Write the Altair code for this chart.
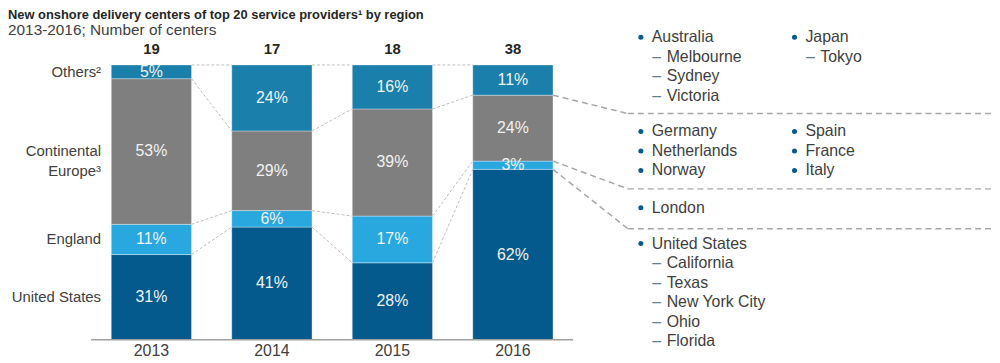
import altair as alt
import pandas as pd

# ---------------- data ----------------
years = ["2013", "2014", "2015", "2016"]
totals = [19, 17, 18, 38]
regions = ["United States", "England", "Continental Europe", "Others"]
region_labels = ["United States", "England", "Continental\nEurope³", "Others²"]
share_us = [31, 41, 28, 62]
share_england = [11, 6, 17, 3]
share_europe = [53, 29, 39, 24]
share_others = [5, 24, 16, 11]
region_colors = ["#045a8d", "#29a8e0", "#7f7f7f", "#1a7fab"]

# right-hand breakdown lists: (level, text); level 0 = bullet, level 1 = dash
others_col1 = [(0, "Australia"), (1, "Melbourne"), (1, "Sydney"), (1, "Victoria")]
others_col2 = [(0, "Japan"), (1, "Tokyo")]
europe_col1 = [(0, "Germany"), (0, "Netherlands"), (0, "Norway")]
europe_col2 = [(0, "Spain"), (0, "France"), (0, "Italy")]
england_col1 = [(0, "London")]
us_col1 = [(0, "United States"), (1, "California"), (1, "Texas"),
           (1, "New York City"), (1, "Ohio"), (1, "Florida")]

title_text = "New onshore delivery centers of top 20 service providers¹ by region"
subtitle_text = "2013-2016; Number of centers"

# ---------------- layout ----------------
W, H = 992, 355
XDOM = [-1.19, 6.976]
YDOM = [-7.94, 120.2]
HALF = 0.333
FONT = "Liberation Sans"
TXT = "#404040"
COL1_X, COL2_X = 4.062, 5.337
ROW_STEP = 7.11
BLOCK_TOP = {"others": 110.1, "europe": 75.8, "england": 48.0, "us": 35.0}
SEP_LEVELS = [82.3, 54.9, 40.4]
BEND_X = 3.955

xs = alt.Scale(domain=XDOM, nice=False, zero=False)
ys = alt.Scale(domain=YDOM, nice=False, zero=False)


def X(f):
    return alt.X(f, type="quantitative", scale=xs, axis=None)


def Y(f):
    return alt.Y(f, type="quantitative", scale=ys, axis=None)


shares = [share_us, share_england, share_europe, share_others]

# cumulative boundaries per year
cum = []
for i in range(len(years)):
    c = [0]
    for s in shares:
        c.append(c[-1] + s[i])
    cum.append(c)

bar_rows = []
for i, yr in enumerate(years):
    for k, reg in enumerate(regions):
        y0, y1 = cum[i][k], cum[i][k + 1]
        bar_rows.append(dict(xl=i - HALF, xr=i + HALF, xc=i, y0=y0, y1=y1,
                             mid=(y0 + y1) / 2, region=reg,
                             label=f"{shares[k][i]}%"))
bars_df = pd.DataFrame(bar_rows)

conn_rows = []
for i in range(len(years) - 1):
    for k in range(1, len(regions) + 1):
        conn_rows.append(dict(x=i + HALF, x2=i + 1 - HALF,
                              y=cum[i][k], y2=cum[i + 1][k]))
conn_df = pd.DataFrame(conn_rows)

last = len(years) - 1
right_rows = []
for lvl, k in zip(SEP_LEVELS, [3, 2, 1]):
    right_rows.append(dict(x=last + HALF, x2=BEND_X, y=cum[last][k], y2=lvl))
    right_rows.append(dict(x=BEND_X, x2=XDOM[1], y=lvl, y2=lvl))
right_df = pd.DataFrame(right_rows)

tot_df = pd.DataFrame(dict(x=list(range(len(years))), y=[100] * len(years),
                           t=[str(v) for v in totals]))
year_df = pd.DataFrame(dict(x=list(range(len(years))), y=[0] * len(years), t=years))
left_df = pd.DataFrame(dict(x=[-HALF - 0.085] * 4,
                            y=[(cum[0][k] + cum[0][k + 1]) / 2 for k in range(4)],
                            t=region_labels))
axis_df = pd.DataFrame(dict(x=[-0.5], x2=[len(years) - 0.5], y=[0]))

panel_rows = []
for block, cols in [("others", [others_col1, others_col2]),
                    ("europe", [europe_col1, europe_col2]),
                    ("england", [england_col1]),
                    ("us", [us_col1])]:
    for cx, col in zip([COL1_X, COL2_X], cols):
        for r, (lvl, t) in enumerate(col):
            panel_rows.append(dict(x=cx, y=BLOCK_TOP[block] - r * ROW_STEP,
                                   level=lvl, t=t))
panel_df = pd.DataFrame(panel_rows)
p0 = panel_df[panel_df.level == 0]
p1 = panel_df[panel_df.level == 1]

# ---------------- marks ----------------
bars = alt.Chart(bars_df).mark_rect(stroke="#ffffff", strokeOpacity=0.35, strokeWidth=1).encode(
    x=X("xl"), x2="xr", y=Y("y0"), y2="y1",
    color=alt.Color("region:N", scale=alt.Scale(domain=regions, range=region_colors), legend=None),
)
bar_text = alt.Chart(bars_df).mark_text(font=FONT, fontSize=16, color="#f2f2f2",
                                        baseline="middle", align="center").encode(
    x=X("xc"), y=Y("mid"), text="label:N")

conn = alt.Chart(conn_df).mark_rule(color="#bdbdbd", strokeWidth=1, strokeDash=[3, 2]).encode(
    x=X("x"), x2="x2", y=Y("y"), y2="y2")
right = alt.Chart(right_df).mark_rule(color="#a6a6a6", strokeWidth=1.5, strokeDash=[6, 4]).encode(
    x=X("x"), x2="x2", y=Y("y"), y2="y2")

axis_line = alt.Chart(axis_df).mark_rule(color="#a0a0a0", strokeWidth=1.5).encode(
    x=X("x"), x2="x2", y=Y("y"))
year_text = alt.Chart(year_df).mark_text(font=FONT, fontSize=16, color=TXT,
                                         baseline="alphabetic", dy=16).encode(
    x=X("x"), y=Y("y"), text="t:N")
tot_text = alt.Chart(tot_df).mark_text(font=FONT, fontSize=15, fontWeight="bold",
                                       color="#262626", baseline="alphabetic", dy=-11).encode(
    x=X("x"), y=Y("y"), text="t:N")
left_text = alt.Chart(left_df).mark_text(font=FONT, fontSize=15, color=TXT, align="right",
                                         baseline="middle", lineBreak="\n", lineHeight=20).encode(
    x=X("x"), y=Y("y"), text="t:N")

bullets = alt.Chart(p0).mark_circle(size=26, color="#0b5a8c", opacity=1).encode(
    x=X("x"), y=Y("y"))
bullet_text = alt.Chart(p0).mark_text(font=FONT, fontSize=16, color=TXT, align="left",
                                      baseline="middle", dx=11).encode(
    x=X("x"), y=Y("y"), text="t:N")
dashes = alt.Chart(p1).mark_text(font=FONT, fontSize=16, color="#5b7f99", align="center",
                                 baseline="middle", dx=16).encode(
    x=X("x"), y=Y("y"), text=alt.value("–"))
dash_text = alt.Chart(p1).mark_text(font=FONT, fontSize=16, color=TXT, align="left",
                                    baseline="middle", dx=26).encode(
    x=X("x"), y=Y("y"), text="t:N")

head_df = pd.DataFrame(dict(t=[title_text]))
sub_df = pd.DataFrame(dict(t=[subtitle_text]))
title = alt.Chart(head_df).mark_text(font=FONT, fontSize=13, fontWeight="bold", color="#262626",
                                     align="left", baseline="alphabetic").encode(
    x=alt.value(0), y=alt.value(10), text="t:N")
subtitle = alt.Chart(sub_df).mark_text(font=FONT, fontSize=15.5, color=TXT,
                                       align="left", baseline="alphabetic").encode(
    x=alt.value(0), y=alt.value(26), text="t:N")

chart = alt.layer(
    conn, right, bars, bar_text, axis_line, year_text, tot_text, left_text,
    bullets, bullet_text, dashes, dash_text, title, subtitle,
).properties(
    width=W, height=H, autosize=alt.AutoSizeParams(type="none"), padding=0,
).configure_view(stroke=None)

chart.save("out.html", embed_options={"renderer": "svg", "actions": False})
